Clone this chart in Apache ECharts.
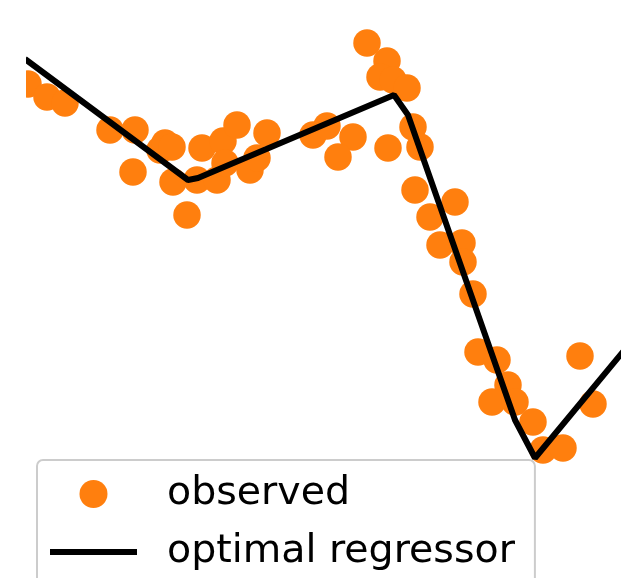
<!DOCTYPE html>
<html>
<head>
<meta charset="utf-8">
<script src="https://cdn.jsdelivr.net/npm/echarts@6/dist/echarts.min.js"></script>
<style>
  html, body { margin: 0; padding: 0; background: #fff; }
  #chart { width: 621px; height: 578px; }
</style>
</head>
<body>
<div id="chart"></div>
<script>
// observed samples
const obsX = [0.03, 0.22, 0.40, 0.85, 1.10, 1.08, 1.35, 1.40, 1.47, 1.48,
  1.62, 1.77, 1.72, 1.92, 1.98, 2.12, 2.00, 2.25, 2.32, 2.42,
  2.88, 3.02, 3.28, 3.13, 3.42, 3.62, 3.55, 3.68, 3.82, 3.63,
  3.88, 3.95, 3.90, 4.30, 4.05, 4.15, 4.37, 4.38, 4.48, 4.53,
  4.72, 4.83, 4.67, 4.90, 5.08, 5.18, 5.38, 5.55, 5.68];
const obsY = [4.16, 4.03, 3.97, 3.70, 3.70, 3.28, 3.50, 3.57, 3.53, 3.18,
  2.85, 3.52, 3.20, 3.20, 3.59, 3.75, 3.37, 3.30, 3.42, 3.67,
  3.65, 3.74, 3.63, 3.43, 4.57, 4.39, 4.23, 4.20, 4.12, 3.52,
  3.73, 3.53, 3.10, 2.98, 2.83, 2.55, 2.57, 2.38, 2.06, 1.48,
  1.40, 1.15, 0.98, 0.98, 0.78, 0.50, 0.52, 1.44, 0.96];

// optimal regressor (piecewise)
const regX = [0.00, 1.63, 1.73, 3.69, 3.83, 4.90, 5.10, 6.35];
const regY = [4.41, 3.20, 3.22, 4.05, 3.85, 0.80, 0.42, 1.93];

const xRange = [0, 5.96];
const yRange = [-0.78, 5.0];

// circle centred in the wide legend slot (the moveTo points fix the box)
const dotIcon = 'path://M0 0L0 0M87 28L87 28M29.5 14A14 14 0 1 1 57.5 14A14 14 0 1 1 29.5 14Z';

const chart = echarts.init(document.getElementById('chart'));
chart.setOption({
  animation: false,
  backgroundColor: '#ffffff',
  grid: { left: 25, right: 0, top: 0, bottom: 0 },
  xAxis: { type: 'value', min: xRange[0], max: xRange[1], show: false },
  yAxis: { type: 'value', min: yRange[0], max: yRange[1], show: false },
  // axes edge: markers are cut off at the left border
  graphic: [{
    type: 'rect',
    left: 0, top: 0, z: 5,
    shape: { width: 26, height: 578 },
    style: { fill: '#ffffff' }
  }],
  legend: {
    orient: 'vertical',
    left: 37,
    top: 460,
    height: 200,
    data: [
      { name: 'observed', icon: dotIcon },
      { name: 'optimal regressor', itemStyle: { opacity: 0 }, lineStyle: { width: 6, color: '#000' } }
    ],
    itemWidth: 87,
    itemHeight: 28,
    itemGap: 18,
    symbolKeepAspect: false,
    padding: [14, 20, 40, 10],
    backgroundColor: 'rgba(255,255,255,0.8)',
    borderColor: '#cccccc',
    borderWidth: 2,
    borderRadius: 6,
    formatter: name => '{t|' + name + '}',
    textStyle: {
      fontFamily: 'DejaVu Sans',
      fontSize: 39.5,
      color: '#000',
      rich: {
        t: {
          fontFamily: 'DejaVu Sans',
          fontSize: 39.5,
          lineHeight: 40,
          color: '#000',
          padding: [0, 0, 0, 25]
        }
      }
    },
    z: 10
  },
  series: [
    {
      name: 'observed',
      type: 'scatter',
      symbol: 'circle',
      symbolSize: 27.5,
      itemStyle: { color: '#ff7f0e', opacity: 1 },
      data: obsX.map((x, i) => [x, obsY[i]]),
      z: 2
    },
    {
      name: 'optimal regressor',
      type: 'line',
      symbol: 'none',
      lineStyle: { color: '#000000', width: 6 },
      itemStyle: { color: '#000000' },
      data: regX.map((x, i) => [x, regY[i]]),
      z: 3
    }
  ]
});
</script>
</body>
</html>
